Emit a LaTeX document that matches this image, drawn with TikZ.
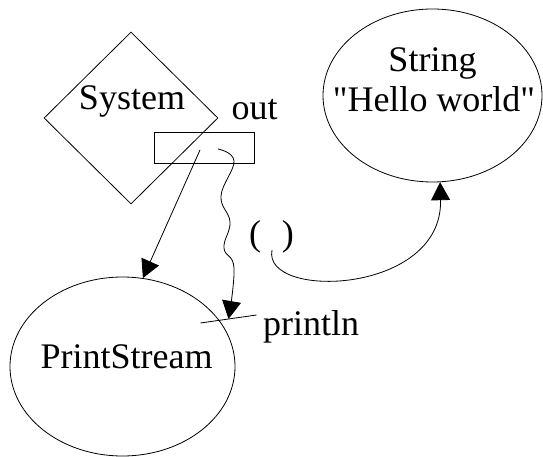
\documentclass[tikz,border=0pt]{standalone}
\usepackage{fontspec}
\setmainfont{Liberation Serif}
\usetikzlibrary{shapes.geometric,arrows.meta}

\begin{document}
\begin{tikzpicture}[x=10pt,y=10pt]
 	\tikzstyle{every node}+=[inner sep=0pt, font=\fontsize{36}{40}\selectfont]
 	\tikzstyle{obj}=[draw=black, ellipse, line width=0.8pt]
 	\tikzstyle{ref}=[black, line width=0.8pt, -{Triangle[length=18pt,width=19pt]}]
 	\useasboundingbox (0,0) rectangle (54.3,-45.7);
 	% the System class and its field out
 	\node [draw=black, diamond, line width=0.8pt, minimum width=174pt, minimum height=172pt] (system) at (13.1,-11.8) {};
 	\node [anchor=base] (systemname) at (13.2,-11.0) {System};
 	\node [draw=black, line width=0.8pt, minimum width=100pt, minimum height=31pt] (outbox) at (20.4,-14.75) {};
 	\node [anchor=base] (outname) at (25.45,-12.0) {out};
 	% objects
 	\node [obj, minimum width=219pt, minimum height=173pt] (string) at (43.25,-9.55) {};
 	\node [anchor=base] (stringname) at (43.25,-7.2) {String};
 	\node [anchor=base] (stringvalue) at (43.4,-11.2) {\textquotedbl Hello world\textquotedbl};
 	\node [obj, minimum width=225pt, minimum height=179pt] (printstream) at (12.25,-36.65) {};
 	\node [anchor=base] (printstreamname) at (12.65,-36.8) {PrintStream};
 	% method and call arguments
 	\coordinate (tick) at (22.85,-31.9);
 	\draw [black, line width=0.8pt] (tick) ++(-2.8,-0.4) -- ++(5.6,0.8);
 	\node [anchor=base west] (println) at (26.3,-33.5) {println};
 	\node [anchor=base] (args) at (27.15,-24.55) {(\hspace{0.58em})};
 	\coordinate (outL) at (20.0,-15.0);
 	\coordinate (outR) at (21.8,-14.9);
 	\coordinate (callarg) at (27.2,-25.0);
 	% references
 	\draw [ref] (outL) -- (printstream.77);
 	\draw [ref] plot [smooth, tension=0.7] coordinates {(outR) (23.4,-16.1) (22.1,-19.6) (23.0,-22.2) (22.4,-24.8) (23.4,-26.8) (tick)};
 	\draw [ref] (callarg) .. controls (26.2,-30.0) and (44.3,-29.5) .. (string.-85);
\end{tikzpicture}
\end{document}
